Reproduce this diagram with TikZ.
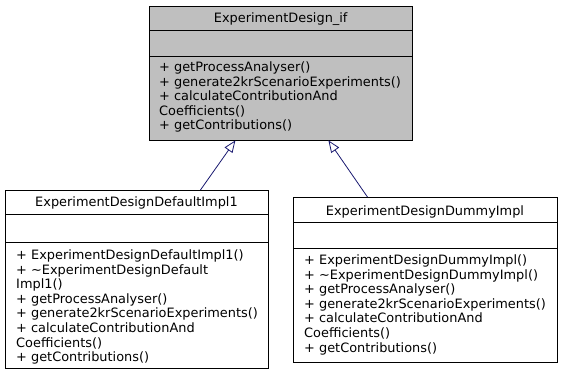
\documentclass[tikz,border=0pt]{standalone}
\usepackage{fontspec}
\setmainfont{DejaVu Sans}
\usetikzlibrary{arrows.meta}
\definecolor{ifgray}{HTML}{BFBFBF}
\definecolor{edgeblue}{HTML}{191970}
\begin{document}
\begin{tikzpicture}[x=1pt,y=-1pt,
  classbox/.style={draw=black,line width=0.9pt,rectangle,inner sep=0pt,anchor=north west},
  sepline/.style={draw=black,line width=0.9pt},
  ctitle/.style={font=\fontsize{12.9}{14.6}\selectfont,inner sep=0pt,anchor=base},
  cmembers/.style={font=\fontsize{12.9}{14.6}\selectfont,inner sep=0pt,align=left,anchor=north west},
  inherit/.style={draw=edgeblue,line width=0.8pt,-{Triangle[open,length=12pt,width=9.5pt]}}]
\useasboundingbox (0,0) rectangle (563,375);

% interface class
\node[classbox,fill=ifgray,minimum width=263.3pt,minimum height=134pt] (base) at (149,5.5) {};
\draw[sepline] (base.west |- 0,30.5) -- (base.east |- 0,30.5);
\draw[sepline] (base.west |- 0,56) -- (base.east |- 0,56);
\node[ctitle] (basetitle) at (280.7,22) {ExperimentDesign\_if};
\node[cmembers] (basemem) at (159,61.5) {+ getProcessAnalyser()\\+ generate2krScenarioExperiments()\\+ calculateContributionAnd\\Coefficients()\\+ getContributions()};

% default implementation
\node[classbox,fill=white,minimum width=263pt,minimum height=178.3pt] (dflt) at (5,190) {};
\draw[sepline] (dflt.west |- 0,214.5) -- (dflt.east |- 0,214.5);
\draw[sepline] (dflt.west |- 0,242) -- (dflt.east |- 0,242);
\node[ctitle] (dflttitle) at (136.5,206.7) {ExperimentDesignDefaultImpl1};
\node[cmembers] (dfltmem) at (16,249.5) {+ ExperimentDesignDefaultImpl1()\\+ \textasciitilde ExperimentDesignDefault\\Impl1()\\+ getProcessAnalyser()\\+ generate2krScenarioExperiments()\\+ calculateContributionAnd\\Coefficients()\\+ getContributions()};

% dummy implementation
\node[classbox,fill=white,minimum width=264pt,minimum height=165pt] (dummy) at (293,197) {};
\draw[sepline] (dummy.west |- 0,222.5) -- (dummy.east |- 0,222.5);
\draw[sepline] (dummy.west |- 0,248.5) -- (dummy.east |- 0,248.5);
\node[ctitle] (dummytitle) at (425,215) {ExperimentDesignDummyImpl};
\node[cmembers] (dummymem) at (304,254.5) {+ ExperimentDesignDummyImpl()\\+ \textasciitilde ExperimentDesignDummyImpl()\\+ getProcessAnalyser()\\+ generate2krScenarioExperiments()\\+ calculateContributionAnd\\Coefficients()\\+ getContributions()};

% inheritance edges
\draw[inherit] ([xshift=63.5pt]dflt.north) -- ([xshift=-45.7pt]base.south);
\draw[inherit] ([xshift=-58pt]dummy.north) -- ([xshift=47.3pt]base.south);
\end{tikzpicture}
\end{document}
